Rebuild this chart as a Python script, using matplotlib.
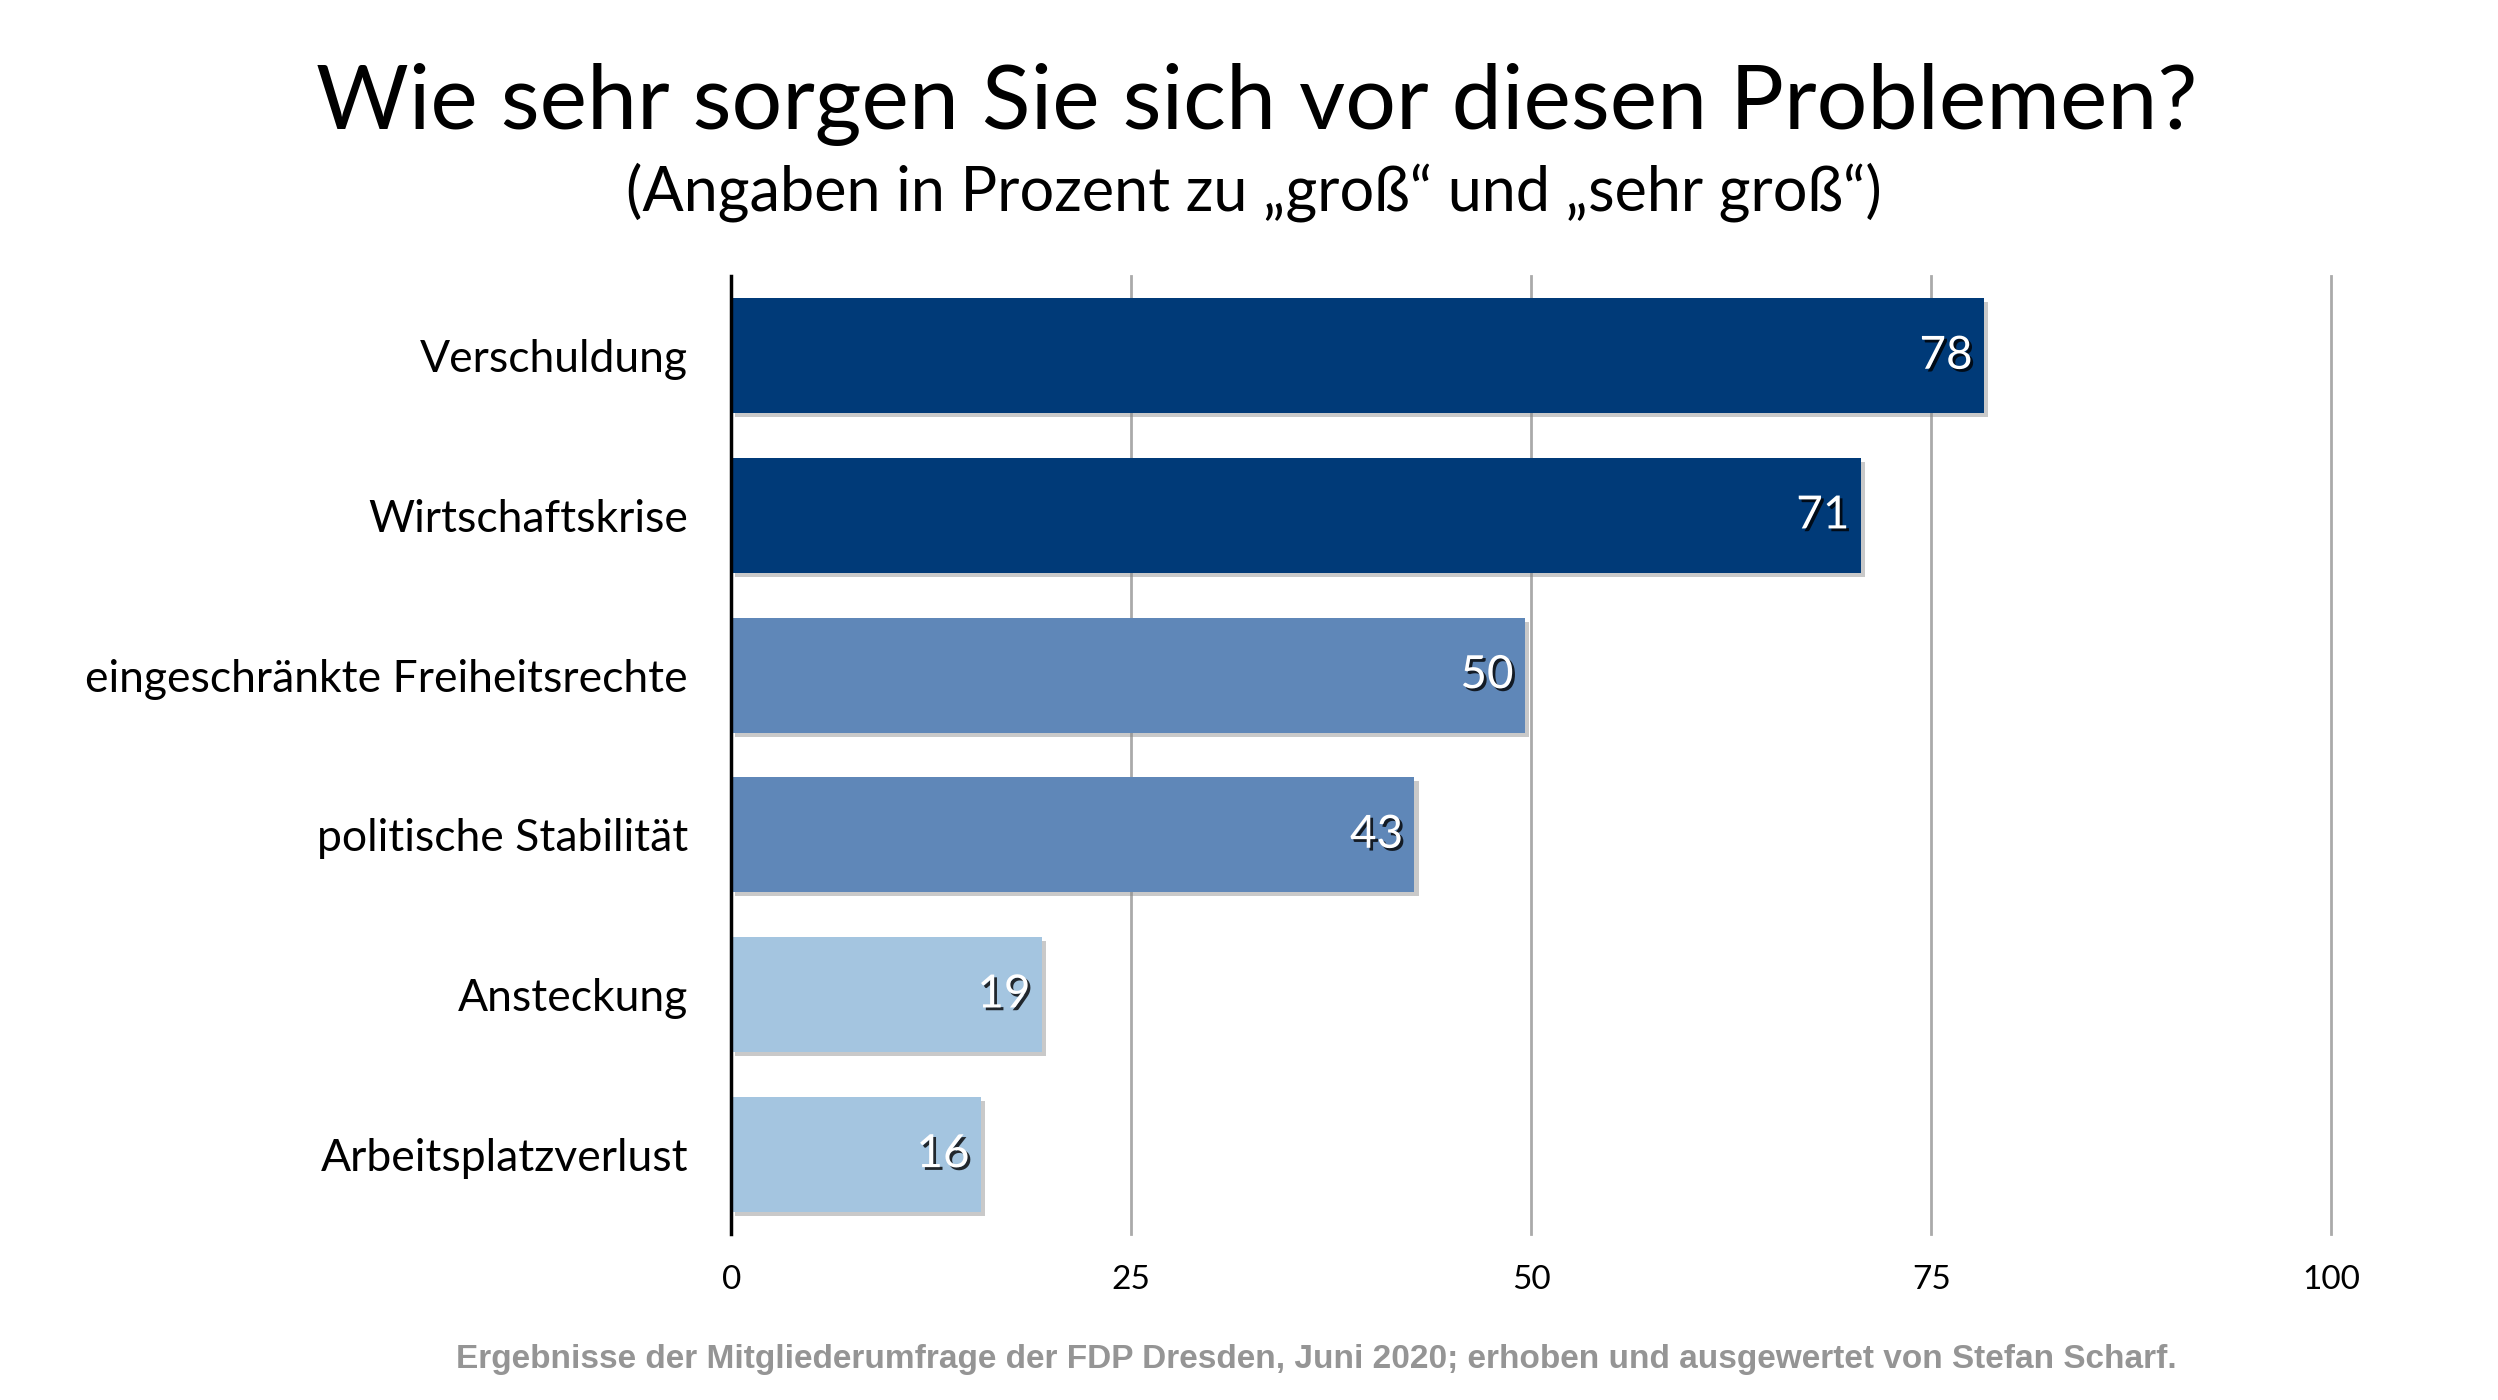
import matplotlib
matplotlib.use("Agg")
import matplotlib.pyplot as plt
import matplotlib.patheffects as pe

categories = ["Verschuldung", "Wirtschaftskrise", "eingeschränkte Freiheitsrechte",
              "politische Stabilität", "Ansteckung", "Arbeitsplatzverlust"]
# bar lengths as measured in the picture, and the rounded labels printed on them
values = [78.3, 70.6, 49.6, 42.7, 19.4, 15.6]
labels = [78, 71, 50, 43, 19, 16]
colors = ["#003A78", "#003A78", "#5F87B8", "#5F87B8", "#A4C5E0", "#A4C5E0"]
xticks = [0, 25, 50, 75, 100]

plt.rcParams["font.family"] = ["Lato", "DejaVu Sans"]

fig = plt.figure(figsize=(24.98, 14), dpi=100)
ax = fig.add_axes([0.2927, 0.1186, 0.6405, 0.6843])

ypos = list(range(len(categories)))
bars = ax.barh(ypos, values, height=0.72, color=colors, zorder=3)
for b in bars:
    b.set_path_effects([pe.SimplePatchShadow(offset=(3, -3), shadow_rgbFace="#888888", alpha=0.45),
                        pe.Normal()])

for y, v, lab in zip(ypos, values, labels):
    ax.annotate(str(lab), xy=(v, y), xytext=(-8, 0), textcoords="offset points",
                ha="right", va="center", color="white", fontsize=33, zorder=4,
                path_effects=[pe.withSimplePatchShadow(offset=(2, -2), shadow_rgbFace="black", alpha=0.8)])

ax.set_ylim(len(categories) - 0.5, -0.5)
ax.set_xlim(0, 100)
ax.set_yticks(ypos)
ax.set_yticklabels(categories, fontsize=32)
ax.set_xticks(xticks)
ax.set_xticklabels([str(t) for t in xticks], fontsize=24)
ax.tick_params(axis="both", length=0)
ax.tick_params(axis="y", pad=31)
ax.tick_params(axis="x", pad=22)

ax.grid(axis="x", color="#AAAAAA", linewidth=2, zorder=0)
for gl in ax.get_xgridlines():
    gl.set_clip_on(False)
for s in ["top", "right", "bottom"]:
    ax.spines[s].set_visible(False)
ax.spines["left"].set_linewidth(2.5)
ax.spines["left"].set_zorder(5)

fig.text(0.503, 0.925, "Wie sehr sorgen Sie sich vor diesen Problemen?", ha="center",
         va="center", fontsize=64.5)
fig.text(0.502, 0.863, "(Angaben in Prozent zu „groß“ und „sehr groß“)", ha="center",
         va="center", fontsize=44)
fig.text(0.527, 0.029,
         "Ergebnisse der Mitgliederumfrage der FDP Dresden, Juni 2020; erhoben und ausgewertet von Stefan Scharf.",
         ha="center", va="center", fontsize=24, color="#959595", fontweight="bold",
         family=["Liberation Sans", "DejaVu Sans"])

fig.savefig("out.png", dpi=100)
